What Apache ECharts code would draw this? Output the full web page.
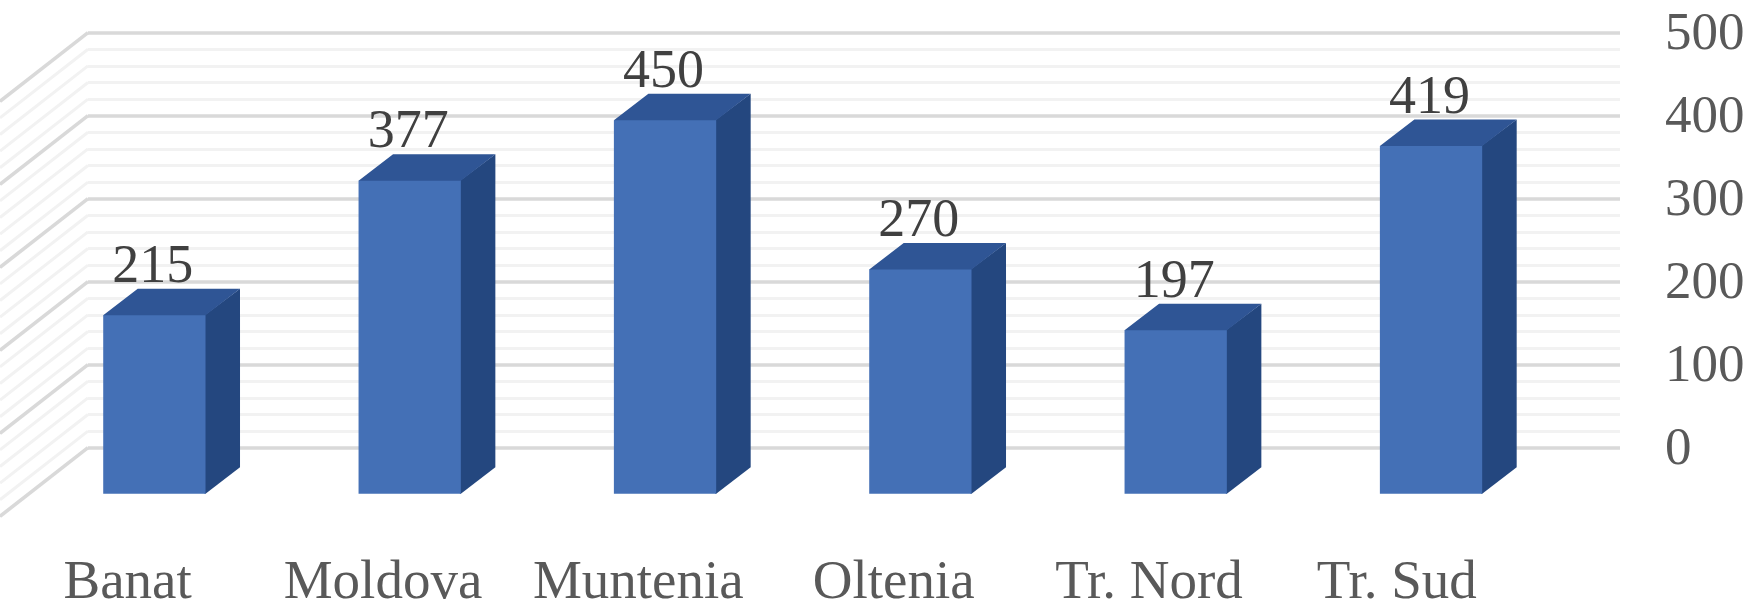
<!DOCTYPE html>
<html>
<head>
<meta charset="utf-8">
<title>Regions</title>
<script src="https://cdn.jsdelivr.net/npm/echarts@6/dist/echarts.min.js"></script>
<style>
html, body {margin: 0; padding: 0; background: #fff;}
#main {width: 1762px; height: 609px;}
</style>
</head>
<body>
<div id="main"></div>
<script>
let categories = ['Banat', 'Moldova', 'Muntenia', 'Oltenia', 'Tr. Nord', 'Tr. Sud'];
let values = [215, 377, 450, 270, 197, 419];
let majorTicks = [0, 100, 200, 300, 400, 500];
let minorTicks = [20, 40, 60, 80, 120, 140, 160, 180, 220, 240, 260, 280, 320, 340, 360, 380, 420, 440, 460, 480];

let fontName = '"Liberation Serif", "Times New Roman", serif';

// fake 3D: the axis sits on the back wall, bars stand on a plane shifted by this
let planeDx = -61.3;
let planeDy = 46;
let depthDx = 34.5;
let depthDy = -26.5;
let barWidth = 102.3;

function renderBar(params, api){
    let top = api.coord([api.value(0), api.value(1)]);
    let base = api.coord([api.value(0), 0]);
    let x0 = top[0] + planeDx - barWidth / 2;
    let x1 = x0 + barWidth;
    let yTop = top[1] + planeDy;
    let yBase = base[1] + planeDy;
    return {
        type: 'group',
        children: [
            {
                // side and top run a pixel under the front face so no seam shows
                type: 'polygon',
                shape: {points: [[x1 - 1, yBase], [x1, yBase], [x1 + depthDx, yBase + depthDy], [x1 + depthDx, yTop + depthDy], [x1 - 1, yTop]]},
                style: {fill: '#24477f'}
            },
            {
                type: 'polygon',
                shape: {points: [[x0, yTop], [x0 + 1, yTop + 1], [x1 - 1, yTop + 1], [x1, yTop], [x1 + depthDx, yTop + depthDy], [x0 + depthDx, yTop + depthDy]]},
                style: {fill: '#2f5595'}
            },
            {
                type: 'polygon',
                shape: {points: [[x0, yBase], [x1, yBase], [x1, yTop], [x0, yTop]]},
                style: {fill: '#4470b6'}
            },
            {
                type: 'text',
                x: (x0 + x1) / 2 - 1.5,
                y: yTop - 47.5,
                style: {
                    text: String(api.value(1)),
                    fontFamily: fontName,
                    fontSize: 54,
                    fill: '#404040',
                    align: 'center',
                    verticalAlign: 'middle'
                }
            }
        ]
    };
}

function renderWall(color, width){
    return function(params, api){
        let y = api.coord([0, api.value(1)])[1];
        let x = params.coordSys.x;
        return {
            type: 'line',
            shape: {x1: x, y1: y, x2: x - 88, y2: y + 68.6},
            style: {stroke: color, lineWidth: width, fill: null}
        };
    };
}

// last label sits further left than the even spacing in the original
let xLabels = categories.map(function(name){
    if(name === 'Tr. Sud'){
        return {value: name, textStyle: {padding: [2, 191, 0, 0]}};
    }
    return name;
});

let myChart = echarts.init(document.getElementById('main'));

let option = {
    animation: false,
    backgroundColor: '#fff',
    grid: {left: 88, right: 142, top: 32.7, height: 415, outerBoundsMode: 'none'},
    xAxis: {
        type: 'category',
        data: xLabels,
        axisLine: {show: false},
        axisTick: {show: false},
        axisLabel: {
            interval: 0,
            margin: 106,
            padding: [2, 176, 0, 0],
            fontFamily: fontName,
            fontSize: 55,
            color: '#595959'
        }
    },
    yAxis: {
        type: 'value',
        position: 'right',
        min: 0,
        max: 500,
        interval: 100,
        axisLine: {show: false},
        axisTick: {show: false},
        axisLabel: {
            margin: 45,
            align: 'left',
            verticalAlign: 'top',
            padding: [-24, 0, 0, 0],
            fontFamily: fontName,
            fontSize: 53,
            color: '#595959'
        },
        splitLine: {show: true, lineStyle: {color: '#d9d9d9', width: 3.5}},
        minorTick: {show: false, splitNumber: 5},
        minorSplitLine: {show: true, lineStyle: {color: '#f2f2f2', width: 3}}
    },
    series: [
        {
            type: 'custom',
            name: 'wall minor',
            coordinateSystem: 'cartesian2d',
            renderItem: renderWall('#f2f2f2', 3),
            data: minorTicks.map(function(v){ return [0, v]; }),
            clip: false,
            silent: true,
            z: 1
        },
        {
            type: 'custom',
            name: 'wall major',
            coordinateSystem: 'cartesian2d',
            renderItem: renderWall('#d9d9d9', 3.5),
            data: majorTicks.map(function(v){ return [0, v]; }),
            clip: false,
            silent: true,
            z: 2
        },
        {
            type: 'custom',
            name: 'bars',
            coordinateSystem: 'cartesian2d',
            renderItem: renderBar,
            data: values.map(function(v, i){ return [i, v]; }),
            clip: false,
            z: 3
        }
    ]
};

myChart.setOption(option);
</script>
</body>
</html>
